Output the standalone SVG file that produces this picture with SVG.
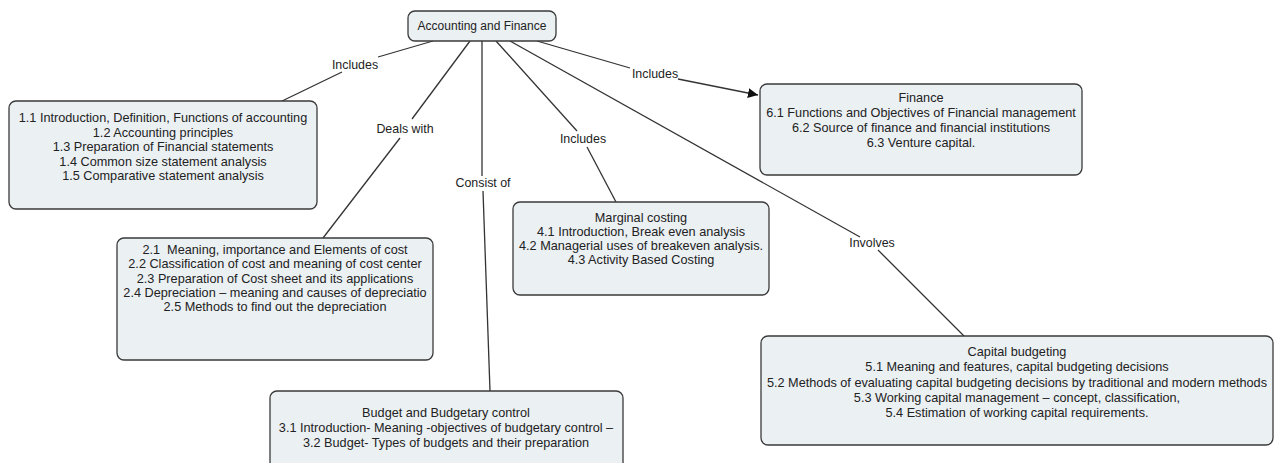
<svg xmlns="http://www.w3.org/2000/svg" width="1282" height="463" viewBox="0 0 1282 463">
<style>
.box{fill:#ebf0f3;stroke:#3a3a3a;stroke-width:1.3}
.t{font-family:"Liberation Sans",Arial,sans-serif;font-size:12.7px;fill:#222;text-anchor:middle}
.r{font-size:12px}
.l{font-size:12.4px}
.c{fill:none;stroke:#333;stroke-width:1.3}
</style>
<defs>
<marker id="arr" viewBox="0 0 10 10" refX="10" refY="5" markerWidth="10" markerHeight="10" markerUnits="userSpaceOnUse" orient="auto">
<path d="M0,0 L10,5 L0,10 z" fill="#111"/>
</marker>
</defs>
<rect width="1282" height="463" fill="#fff"/>
<g id="connectors">
<path class="c" d="M433,41 L378,57"/>
<path class="c" d="M342,72 L280,102"/>
<path class="c" d="M470,41 L412,119"/>
<path class="c" d="M400,138 L323,238"/>
<path class="c" d="M482,41 L482,176"/>
<path class="c" d="M483,191 L490,391"/>
<path class="c" d="M496,41 L577,131"/>
<path class="c" d="M587,147 L616,202"/>
<path class="c" d="M510,41 L860,237"/>
<path class="c" d="M878,250 L965,337"/>
<path class="c" d="M537,41 L630,68"/>
<path class="c" d="M678,79 L758,95" marker-end="url(#arr)"/>
<text class="t l" x="355" y="69">Includes</text>
<text class="t l" x="405" y="133">Deals with</text>
<text class="t l" x="483" y="187">Consist of</text>
<text class="t l" x="583" y="143">Includes</text>
<text class="t l" x="872" y="247">Involves</text>
<text class="t l" x="655" y="78">Includes</text>
</g>
<g id="root">
<rect class="box" x="408" y="11" width="148" height="30" rx="7"/>
<text class="t r" x="482" y="30">Accounting and Finance</text>
</g>
<g id="n1">
<rect class="box" x="9" y="101" width="308" height="108" rx="7"/>
<text class="t" x="163" y="122">1.1 Introduction, Definition, Functions of accounting</text>
<text class="t" x="163" y="136.6">1.2 Accounting principles</text>
<text class="t" x="163" y="151.2">1.3 Preparation of Financial statements</text>
<text class="t" x="163" y="165.8">1.4 Common size statement analysis</text>
<text class="t" x="163" y="180.4">1.5 Comparative statement analysis</text>
</g>
<g id="n6">
<rect class="box" x="760" y="84" width="322" height="91" rx="7"/>
<text class="t" x="921" y="102">Finance</text>
<text class="t" x="921" y="117">6.1 Functions and Objectives of Financial management</text>
<text class="t" x="921" y="132">6.2 Source of finance and financial institutions</text>
<text class="t" x="921" y="147">6.3 Venture capital.</text>
</g>
<g id="n2">
<rect class="box" x="117" y="238" width="316" height="122" rx="7"/>
<text class="t" x="275" y="254" xml:space="preserve">2.1  Meaning, importance and Elements of cost</text>
<text class="t" x="275" y="268.3">2.2 Classification of cost and meaning of cost center</text>
<text class="t" x="275" y="282.6">2.3 Preparation of Cost sheet and its applications</text>
<text class="t" x="275" y="297">2.4 Depreciation – meaning and causes of depreciatio</text>
<text class="t" x="275" y="311.3">2.5 Methods to find out the depreciation</text>
</g>
<g id="n4">
<rect class="box" x="513" y="202" width="256" height="93" rx="7"/>
<text class="t" x="641" y="222">Marginal costing</text>
<text class="t" x="641" y="236">4.1 Introduction, Break even analysis</text>
<text class="t" x="641" y="250">4.2 Managerial uses of breakeven analysis.</text>
<text class="t" x="641" y="264">4.3 Activity Based Costing</text>
</g>
<g id="n3">
<rect class="box" x="270" y="391" width="353" height="80" rx="7"/>
<text class="t" x="446" y="417">Budget and Budgetary control</text>
<text class="t" x="446" y="432">3.1 Introduction- Meaning -objectives of budgetary control –</text>
<text class="t" x="446" y="447">3.2 Budget- Types of budgets and their preparation</text>
</g>
<g id="n5">
<rect class="box" x="761" y="336" width="512" height="109" rx="7"/>
<text class="t" x="1017" y="356">Capital budgeting</text>
<text class="t" x="1017" y="371">5.1 Meaning and features, capital budgeting decisions</text>
<text class="t" x="1017" y="386.5">5.2 Methods of evaluating capital budgeting decisions by traditional and modern methods</text>
<text class="t" x="1017" y="402">5.3 Working capital management – concept, classification,</text>
<text class="t" x="1017" y="417">5.4 Estimation of working capital requirements.</text>
</g>
</svg>
